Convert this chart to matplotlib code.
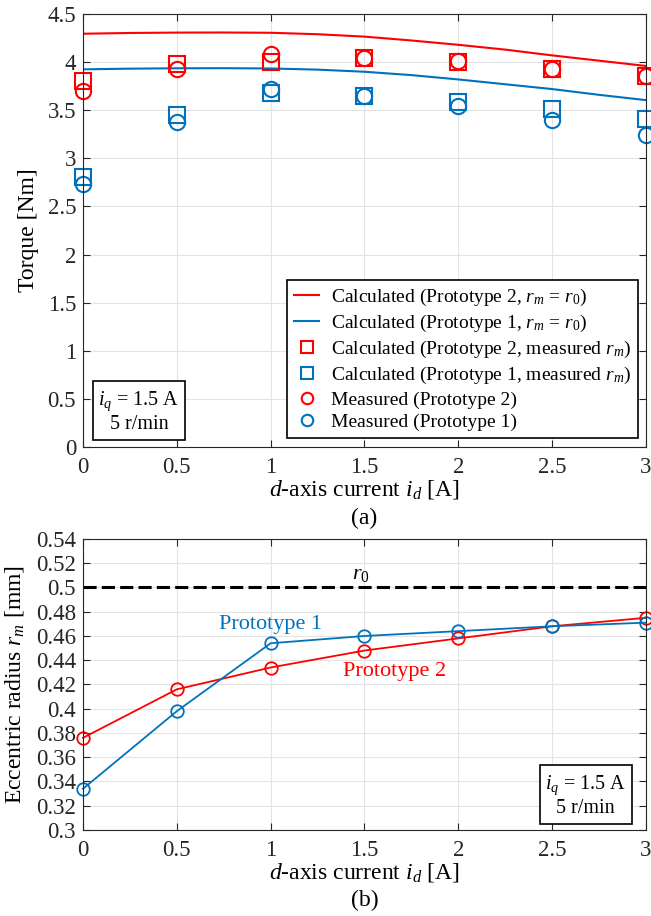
import matplotlib.pyplot as plt
import numpy as np

plt.rcParams['font.family'] = ['Liberation Serif', 'DejaVu Serif']
plt.rcParams['mathtext.fontset'] = 'custom'
plt.rcParams['mathtext.rm'] = 'Liberation Serif'
plt.rcParams['mathtext.it'] = 'Liberation Serif:italic'

red = '#ff0000'
blue = '#0072bd'

# top panel data
id_curve = [0, 0.25, 0.5, 0.75, 1.0, 1.25, 1.5, 1.75, 2.0, 2.25, 2.5, 2.75, 3.0]
calc_p2_r0 = [4.295, 4.303, 4.307, 4.308, 4.305, 4.29, 4.265, 4.225, 4.18, 4.13, 4.07, 4.015, 3.96]
calc_p1_r0 = [3.925, 3.932, 3.936, 3.937, 3.934, 3.922, 3.90, 3.865, 3.82, 3.77, 3.72, 3.66, 3.605]

id_pts = [0, 0.5, 1, 1.5, 2, 2.5, 3]
calc_p2_rm = [3.80, 3.98, 4.00, 4.04, 4.00, 3.93, 3.86]
calc_p1_rm = [2.81, 3.45, 3.68, 3.65, 3.59, 3.51, 3.41]
meas_p2 = [3.70, 3.93, 4.08, 4.04, 4.01, 3.93, 3.855]
meas_p1 = [2.73, 3.38, 3.72, 3.65, 3.54, 3.40, 3.24]

# bottom panel data
rm_p1 = [0.334, 0.398, 0.454, 0.460, 0.464, 0.468, 0.471]
rm_p2 = [0.376, 0.416, 0.434, 0.448, 0.458, 0.468, 0.475]
r0 = 0.5

xt = ['0', '0.5', '1', '1.5', '2', '2.5', '3']

fig = plt.figure(figsize=(6.51, 9.16), dpi=100)
ax1 = fig.add_axes([0.1275, 0.512, 0.8648, 0.4727])
ax2 = fig.add_axes([0.1275, 0.0939, 0.8648, 0.3177])


def style(ax):
    ax.grid(True, color='#e3e3e3', linewidth=0.8)
    ax.set_axisbelow(True)
    ax.tick_params(direction='in', top=True, right=True, labelsize=16.5,
                   length=5, color='#262626', labelcolor='#262626')
    ax.tick_params(axis='x', pad=7)
    ax.tick_params(axis='y', pad=5)
    for s in ax.spines.values():
        s.set_color('#262626')
        s.set_linewidth(0.8)


ax1.plot(id_curve, calc_p2_r0, color=red, lw=1.5,
         label=r'Calculated (Prototype 2, $r_m$ = $r_\mathit{0}$)')
ax1.plot(id_curve, calc_p1_r0, color=blue, lw=1.5,
         label=r'Calculated (Prototype 1, $r_m$ = $r_\mathit{0}$)')
ax1.plot(id_pts, calc_p2_rm, 's', mfc='none', mec=red, ms=11, mew=1.5, clip_on=False,
         label=r'Calculated (Prototype 2, measured $r_m$)')
ax1.plot(id_pts, calc_p1_rm, 's', mfc='none', mec=blue, ms=11, mew=1.5, clip_on=False,
         label=r'Calculated (Prototype 1, measured $r_m$)')
ax1.plot(id_pts, meas_p2, 'o', mfc='none', mec=red, ms=11, mew=1.5, clip_on=False,
         label='Measured (Prototype 2)')
ax1.plot(id_pts, meas_p1, 'o', mfc='none', mec=blue, ms=11, mew=1.5, clip_on=False,
         label='Measured (Prototype 1)')
ax1.set_xlim(0, 3)
ax1.set_ylim(0, 4.5)
ax1.set_xticks(id_pts)
ax1.set_xticklabels(xt)
ax1.set_yticks(np.arange(0, 4.51, 0.5))
ax1.set_yticklabels(['0', '0.5', '1', '1.5', '2', '2.5', '3', '3.5', '4', '4.5'])
style(ax1)
ax1.set_ylabel('Torque [Nm]', fontsize=17, labelpad=6)
ax1.set_xlabel(r'$d$-axis current $i_d$ [A]', fontsize=17, labelpad=0)
leg = ax1.legend(loc='lower right', bbox_to_anchor=(0.986, 0.021), borderaxespad=0,
                 fontsize=14, fancybox=False, edgecolor='black', framealpha=1,
                 handlelength=1.3, handletextpad=0.6, labelspacing=0.25,
                 borderpad=0.35, markerscale=0.75)
leg.get_frame().set_linewidth(1.2)
ax1.text(0.0995, 0.081, '$i_q$ = 1.5 A\n5 r/min', transform=ax1.transAxes, fontsize=14.5,
         ha='center', va='center', linespacing=1.1,
         bbox=dict(boxstyle='square,pad=0.28', fc='white', ec='black', lw=1.2))
fig.text(0.1275 + 0.8648 / 2, 1 - 518 / 916, '(a)', fontsize=17, ha='center', va='center')

ax2.axhline(r0, color='black', lw=2.2, ls=(0, (4.3, 1.7)))
ax2.text(1.48, 0.511, r'$r_\mathit{0}$', fontsize=16, ha='center', va='center')
ax2.plot(id_pts, rm_p2, '-o', color=red, mfc='none', ms=9, mew=1.3, lw=1.3, clip_on=False)
ax2.plot(id_pts, rm_p1, '-o', color=blue, mfc='none', ms=9, mew=1.3, lw=1.3, clip_on=False)
ax2.text(1.0, 0.4695, 'Prototype 1', color=blue, fontsize=16, ha='center', va='center')
ax2.text(1.66, 0.4304, 'Prototype 2', color=red, fontsize=16, ha='center', va='center')
ax2.set_xlim(0, 3)
ax2.set_ylim(0.3, 0.54)
ax2.set_xticks(id_pts)
ax2.set_xticklabels(xt)
ax2.set_yticks(np.arange(0.3, 0.5401, 0.02))
ax2.set_yticklabels(['0.3', '0.32', '0.34', '0.36', '0.38', '0.4', '0.42', '0.44',
                     '0.46', '0.48', '0.5', '0.52', '0.54'])
style(ax2)
ax2.set_ylabel(r'Eccentric radius $r_m$ [mm]', fontsize=17, labelpad=7)
ax2.set_xlabel(r'$d$-axis current $i_d$ [A]', fontsize=17, labelpad=0)
ax2.text(0.893, 0.117, '$i_q$ = 1.5 A\n5 r/min', transform=ax2.transAxes, fontsize=14.5,
         ha='center', va='center', linespacing=1.1,
         bbox=dict(boxstyle='square,pad=0.28', fc='white', ec='black', lw=1.2))
fig.text(0.1275 + 0.8648 / 2, 1 - 900 / 916, '(b)', fontsize=17, ha='center', va='center')

fig.savefig('out.png', dpi=100)
